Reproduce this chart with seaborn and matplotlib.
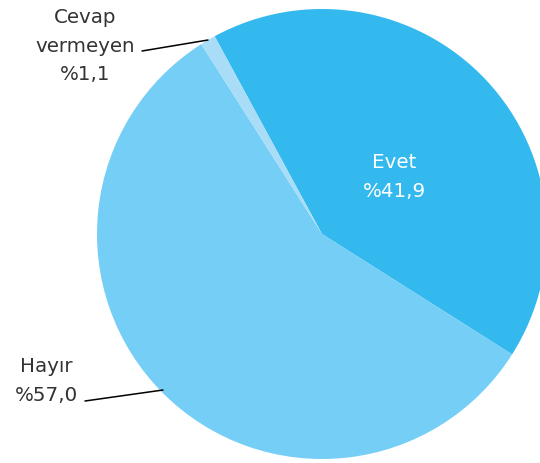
import matplotlib
matplotlib.use("Agg")
import matplotlib.pyplot as plt
import seaborn as sns

labels = ["Evet", "Hayır", "Cevap\nvermeyen"]
values = [41.9, 57.0, 1.1]
pct_text = ["%41,9", "%57,0", "%1,1"]
colors = ["#33b9ee", "#74cef5", "#a9dcf6"]

sns.set_theme(style="white")
plt.rcParams["font.family"] = ["DejaVu Sans"]

W, H = 540, 464
fig = plt.figure(figsize=(W / 100, H / 100), dpi=100)
ax = fig.add_axes([0, 0, 1, 1])

cx, cy, r = 322, H - 235, 225
ax.pie(values, colors=colors, startangle=118.5, counterclock=False,
       center=(cx, cy), radius=r, frame=True,
       wedgeprops=dict(linewidth=0))
ax.set_xlim(0, W)
ax.set_ylim(0, H)
ax.set_aspect("equal")
ax.axis("off")

txt = dict(fontsize=14.3, ha="center", va="center", linespacing=1.62)
ax.text(394, H - 177, f"{labels[0]}\n{pct_text[0]}", color="white", **txt)
ax.text(46, H - 381, f"{labels[1]}\n{pct_text[1]}", color="#333333", **txt)
ax.text(85, H - 46, f"{labels[2]}\n{pct_text[2]}", color="#333333", **txt)

ax.plot([142, 208], [H - 52, H - 41], color="black", lw=1.1)
ax.plot([85, 163], [H - 402, H - 391], color="black", lw=1.1)

fig.savefig("out.png", dpi=100)
